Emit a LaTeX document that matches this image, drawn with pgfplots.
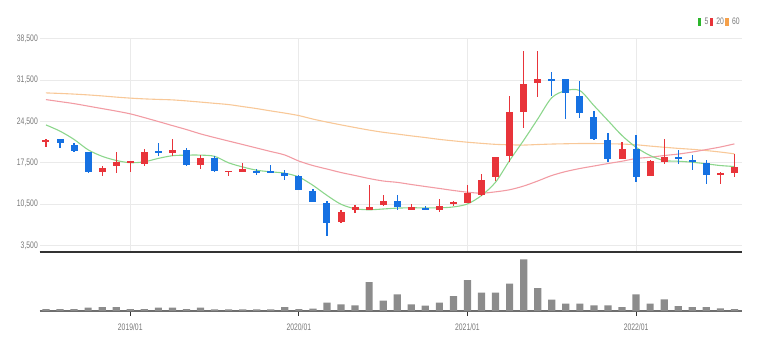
\documentclass[border=0pt]{standalone}
\usepackage{fontspec}
\setmainfont{Liberation Sans}
\newfontfamily\tickfont[FakeStretch=0.72]{Liberation Sans}
\usepackage{pgfplots}
\usepackage{pgfplotstable}
\pgfplotsset{compat=1.18}
\definecolor{upred}{RGB}{232,52,58}
\definecolor{dnblue}{RGB}{22,113,226}
\definecolor{mafive}{RGB}{140,214,140}
\definecolor{matwenty}{RGB}{242,156,164}
\definecolor{masixty}{RGB}{248,200,152}
\definecolor{lgreen}{RGB}{44,182,44}
\definecolor{lred}{RGB}{232,52,58}
\definecolor{lorange}{RGB}{245,160,74}
\definecolor{gridgray}{RGB}{234,234,234}
\definecolor{tickgray}{RGB}{120,120,120}
\definecolor{axdark}{RGB}{50,50,50}
\definecolor{volgray}{RGB}{140,140,140}
\definecolor{basegray}{RGB}{110,110,110}
\newcommand\tf{\tickfont\fontsize{9.5}{9.5}\selectfont}

\pgfplotstableread{
i o h l c
0 21100 21450 20130 21400
4 16030 16880 15190 16590
5 16930 19290 15700 17670
6 17500 17770 15910 17770
7 17330 19790 16930 19290
9 19120 21480 18730 19630
11 17050 18850 16490 18280
13 15910 16200 15190 16200
14 16030 17430 16030 16490
21 7480 9450 7310 9230
22 9450 10300 9060 9960
23 9570 13790 9570 10010
24 10300 12130 10250 11090
26 9570 10540 9460 9960
28 9460 11430 9170 10240
29 10520 11040 10130 10800
30 10750 13790 10630 12370
31 12090 15640 11920 14630
32 15070 18560 14510 18440
33 18610 28740 17600 26040
34 26150 36360 23340 30830
35 31000 36360 28570 31670
41 18170 21090 18170 19860
43 15240 17900 15240 17770
44 17600 21550 17330 18560
48 15360 15910 13840 15750
49 15750 19020 15070 16760
}\upcandles

\pgfplotstableread{
i o h l c
1 21500 21500 19950 20800
2 20590 20810 19290 19460
3 19290 19290 15810 16030
8 19400 20810 18610 19190
10 19630 19960 16930 17050
12 18340 18730 16030 16200
15 16200 16490 15410 15810
16 16080 17210 15750 15750
17 15860 16320 14630 15190
18 15240 15410 12830 12830
19 12660 13120 10880 10880
20 10750 11020 5080 7380
25 11090 12130 9460 9960
27 9900 10180 9460 9460
36 31600 32840 28800 31390
37 31670 31670 24920 29310
38 28850 31380 25090 25940
39 25310 26320 21430 21550
40 21430 22490 17600 18170
42 19860 22270 14230 15070
45 18560 19690 17330 18170
46 18000 18850 16320 17600
47 17500 18000 13960 15360
}\downcandles

\pgfplotstableread{
i ma5 ma20 ma60
0 23900 28180 29310
1 22850 27840 29220
2 21450 27500 29110
3 19700 27080 28970
4 18600 26660 28800
5 17900 26240 28600
6 17520 25770 28430
7 17670 25140 28300
8 18250 24470 28210
9 18700 23790 28130
10 18800 23120 27960
11 18800 22390 27760
12 18600 21770 27550
13 17500 21180 27340
14 16800 20590 27000
15 16250 20000 26660
16 15980 19410 26270
17 15750 18820 25900
18 15100 17800 25480
19 13700 17040 24890
20 12000 16450 24380
21 10500 15860 23910
22 9750 15360 23460
23 9570 14850 23030
24 9700 14430 22660
25 9850 14200 22360
26 9900 13840 22050
27 9900 13500 21770
28 9900 13170 21460
29 10050 12830 21210
30 10550 12540 20980
31 11980 12370 20790
32 14230 12600 20620
33 17900 12950 20540
34 21300 13580 20500
35 24900 14430 20590
36 28500 15360 20670
37 29700 16030 20720
38 29700 16540 20760
39 27170 16960 20760
40 24640 17380 20720
41 22110 17770 20670
42 20130 18230 20550
43 18730 18440 20330
44 17890 18730 20130
45 17770 18980 19940
46 17600 19320 19780
47 17330 19740 19570
48 17040 20170 19320
49 16880 20700 19020
}\madata

\pgfplotstableread{
i v
0 200
1 200
2 200
3 330
4 400
5 400
6 200
7 200
8 330
9 330
10 200
11 330
12 170
13 170
14 170
15 170
16 170
17 400
18 200
19 230
20 830
21 670
22 570
23 2900
24 1030
25 1670
26 670
27 530
28 830
29 1500
30 3100
31 1830
32 1830
33 2730
34 5170
35 2300
36 1130
37 730
38 730
39 570
40 570
41 400
42 1670
43 730
44 1170
45 500
46 400
47 400
48 270
49 200
}\voldata

\begin{document}
\begin{tikzpicture}
\path[use as bounding box] (0,0) rectangle (757bp,350bp);
\begin{axis}[
  at={(39.5bp,98bp)}, anchor=south west,
  scale only axis, width=702.5bp, height=213.5bp,
  xmin=-0.46, xmax=49.54, ymin=2437, ymax=38500,
  axis x line*=bottom, axis y line*=left,
  x axis line style={line width=2.4bp, draw=axdark, -},
  y axis line style={draw=none},
  xtick={6,18,30,42}, xticklabels={},
  xtick style={draw=none},
  ytick={3500,10500,17500,24500,31500,38500},
  ytick style={draw=none},
  xmajorgrids, ymajorgrids,
  major grid style={draw=gridgray, line width=0.8bp},
  scaled y ticks=false,
  /pgf/number format/fixed,
  /pgf/number format/1000 sep={,},
  /pgf/number format/assume math mode=true,
  yticklabel style={font=\tf, text=tickgray, inner sep=0pt, xshift=-1.5bp},
  legend columns=3,
  legend image code/.code={\fill[#1] (0bp,-4bp) rectangle (3.6bp,4.3bp);},
  legend style={at={(1,1)}, anchor=east, xshift=-1.5bp, yshift=16.5bp,
    draw=none, fill=none, inner sep=0pt, font=\tf, text=tickgray,
    nodes={inner sep=0.6bp},
    /tikz/every even column/.append style={column sep=0.8bp},
    /tikz/every odd column/.append style={column sep=2.5bp}},
]
\addplot[forget plot, smooth, line width=1.1bp, masixty] table[x=i, y=ma60] {\madata};
\addplot[forget plot, smooth, line width=1.1bp, matwenty] table[x=i, y=ma20] {\madata};
\addplot[forget plot, smooth, line width=1.1bp, mafive] table[x=i, y=ma5] {\madata};
% wicks
\addplot[forget plot, draw=none, mark=none,
  error bars/.cd, y dir=both, y explicit, error mark=none,
  error bar style={draw=upred, line width=1.2bp}]
  table[x=i, y expr={(\thisrow{h}+\thisrow{l})/2}, y error expr={(\thisrow{h}-\thisrow{l})/2}] {\upcandles};
\addplot[forget plot, draw=none, mark=none,
  error bars/.cd, y dir=both, y explicit, error mark=none,
  error bar style={draw=dnblue, line width=1.2bp}]
  table[x=i, y expr={(\thisrow{h}+\thisrow{l})/2}, y error expr={(\thisrow{h}-\thisrow{l})/2}] {\downcandles};
% bodies
\addplot[forget plot, draw=none, mark=none,
  error bars/.cd, y dir=both, y explicit, error mark=none,
  error bar style={draw=upred, line width=7bp}]
  table[x=i, y expr={(\thisrow{o}+\thisrow{c})/2}, y error expr={max(abs(\thisrow{c}-\thisrow{o})/2,130)}] {\upcandles};
\addplot[forget plot, draw=none, mark=none,
  error bars/.cd, y dir=both, y explicit, error mark=none,
  error bar style={draw=dnblue, line width=7bp}]
  table[x=i, y expr={(\thisrow{o}+\thisrow{c})/2}, y error expr={max(abs(\thisrow{c}-\thisrow{o})/2,130)}] {\downcandles};
\addlegendimage{fill=lgreen, draw=none}
\addlegendentry{5}
\addlegendimage{fill=lred, draw=none}
\addlegendentry{20}
\addlegendimage{fill=lorange, draw=none}
\addlegendentry{60}
\end{axis}
\begin{axis}[
  at={(39.5bp,39bp)}, anchor=south west,
  scale only axis, width=702.5bp, height=59bp,
  xmin=-0.46, xmax=49.54, ymin=0, ymax=5900,
  axis x line*=bottom, axis y line=none,
  x axis line style={line width=2bp, draw=basegray, -},
  xtick={6,18,30,42}, xticklabels={2019/01,2020/01,2021/01,2022/01},
  tick align=outside, major tick length=4.5bp,
  xtick style={draw=axdark, line width=0.9bp},
  xticklabel style={font=\tf, text=tickgray, yshift=-5bp},
  ybar, bar width=7.2bp,
]
\addplot[fill=volgray, draw=none] table[x=i, y=v] {\voldata};
\end{axis}
\end{tikzpicture}
\end{document}
